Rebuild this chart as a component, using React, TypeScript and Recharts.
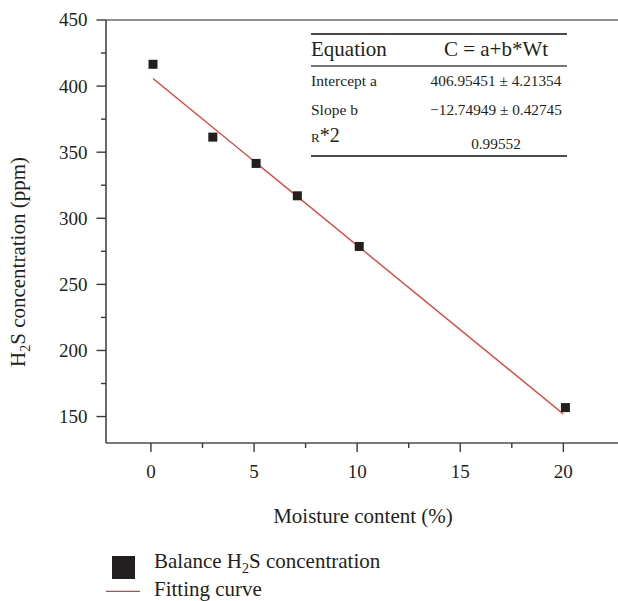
import React from 'react';
import {
  ComposedChart,
  Scatter,
  Line,
  XAxis,
  YAxis,
  ReferenceLine,
  Customized,
  Legend,
  Label,
} from 'recharts';

// ---------- data ----------
const moisture = [0.1, 3.0, 5.1, 7.1, 10.1, 20.1];
const h2sConc = [416.5, 361.4, 341.5, 317.0, 278.7, 156.8];
const fitX = [0.1, 20.0];
const fitY = [405.7, 152.0];

const xTicks = [0, 2.5, 5, 7.5, 10, 12.5, 15, 17.5, 20];
const xMajorTicks = [0, 5, 10, 15, 20];
const yTicks = [150, 175, 200, 225, 250, 275, 300, 325, 350, 375, 400, 425, 450];
const yMajorTicks = [150, 200, 250, 300, 350, 400, 450];

const tableHeader = ['Equation', 'C = a+b*Wt'];
const tableRows = [
  ['Intercept a', '406.95451 ± 4.21354'],
  ['Slope b', '\u221212.74949 ± 0.42745'],
];
const rSquaredValue = '0.99552';

const scatterData = moisture.map((x, i) => ({ x, y: h2sConc[i] }));
const fitData = fitX.map((x, i) => ({ x, y: fitY[i] }));

// ---------- styles ----------
const FONT = '"Liberation Serif", "DejaVu Serif", serif';
const INK = '#231f20';
const AXIS = '#3a3a3a';
const RED = '#e8372c';

const XTick = (props: any) => {
  const { x, y, payload } = props;
  const v = payload.value;
  const major = xMajorTicks.includes(v);
  return (
    <g>
      <line x1={x} x2={x} y1={y} y2={y + (major ? 9 : 5)} stroke={AXIS} strokeWidth={1.4} />
      {major && (
        <text x={x} y={y + 35} textAnchor="middle" fontFamily={FONT} fontSize={19} fill={INK}>
          {v}
        </text>
      )}
    </g>
  );
};

const YTick = (props: any) => {
  const { x, y, payload } = props;
  const v = payload.value;
  const major = yMajorTicks.includes(v);
  return (
    <g>
      <line x1={x} x2={x - (major ? 9.5 : 5)} y1={y} y2={y} stroke={AXIS} strokeWidth={1.4} />
      {major && (
        <text x={x - 18.5} y={y} dy="0.34em" textAnchor="end" fontFamily={FONT} fontSize={19} fill={INK}>
          {v}
        </text>
      )}
    </g>
  );
};

const Square = (props: any) => {
  const { cx, cy } = props;
  if (cx == null || cy == null) return null;
  return <rect x={cx - 4.5} y={cy - 4.5} width={9} height={9} fill={INK} />;
};

const FitTable = () => {
  const x0 = 311;
  const x1 = 567;
  const cx = 496;
  return (
    <g fontFamily={FONT} fill={INK}>
      <line x1={x0} x2={x1} y1={34} y2={34} stroke="#4a4a4a" strokeWidth={2} />
      <text x={x0} y={56} fontSize={21}>{tableHeader[0]}</text>
      <text x={cx} y={56} fontSize={21} textAnchor="middle">{tableHeader[1]}</text>
      <line x1={x0} x2={x1} y1={66} y2={66} stroke="#4a4a4a" strokeWidth={1.5} />
      {tableRows.map((r, i) => (
        <g key={r[0]}>
          <text x={x0} y={86 + i * 28.5} fontSize={15.5}>{r[0]}</text>
          <text x={cx} y={86 + i * 28.5} fontSize={15.3} textAnchor="middle">{r[1]}</text>
        </g>
      ))}
      <text x={x0} y={142}>
        <tspan fontSize={13}>R</tspan>
        <tspan fontSize={20}>*2</tspan>
      </text>
      <text x={cx} y={149} fontSize={15.3} textAnchor="middle">{rSquaredValue}</text>
      <line x1={x0} x2={x1} y1={156} y2={156} stroke="#4a4a4a" strokeWidth={2} />
    </g>
  );
};

const LegendContent = () => (
  <svg width={618} height={53} style={{ display: 'block', overflow: 'visible' }}>
    <rect x={112} y={8} width={23} height={23} fill={INK} />
    <text x={154} y={20} fontFamily={FONT} fontSize={21} fill={INK}>
      Balance H
      <tspan fontSize={14} dy={5}>2</tspan>
      <tspan dy={-5}>S concentration</tspan>
    </text>
    <line x1={106} x2={140} y1={43.3} y2={43.3} stroke={RED} strokeWidth={1.3} />
    <text x={154} y={48} fontFamily={FONT} fontSize={21} fill={INK}>
      Fitting curve
    </text>
  </svg>
);

const XLabel = (props: any) => {
  const vb = props.viewBox || { x: 106, width: 512, y: 443 };
  return (
    <text x={vb.x + vb.width / 2 + 1} y={523} textAnchor="middle" fontFamily={FONT} fontSize={21} fill={INK}>
      Moisture content (%)
    </text>
  );
};

const YLabel = () => (
  <text
    x={25}
    y={262}
    transform="rotate(-90, 25, 262)"
    textAnchor="middle"
    fontFamily={FONT}
    fontSize={21}
    fill={INK}
  >
    H<tspan fontSize={14} dy={5}>2</tspan>
    <tspan dy={-5}>S concentration (ppm)</tspan>
  </text>
);

export default function App() {
  return (
    <div style={{ position: 'absolute', left: 0, top: 0, width: 618, height: 601, background: '#fff' }}>
      <ComposedChart
        width={618}
        height={601}
        margin={{ top: 20, right: 0, left: 6, bottom: 58 }}
      >
        <XAxis
          dataKey="x"
          type="number"
          domain={[-2.18, 22.65]}
          allowDataOverflow
          ticks={xTicks}
          interval={0}
          tickSize={0}
          tickMargin={0}
          tickLine={false}
          tick={XTick}
          axisLine={{ stroke: '#4d4d4d', strokeWidth: 1.5 }}
          height={100}
        >
          <Label content={XLabel} />
        </XAxis>
        <YAxis
          dataKey="y"
          type="number"
          domain={[130, 450]}
          allowDataOverflow
          ticks={yTicks}
          interval={0}
          tickSize={0}
          tickMargin={0}
          tickLine={false}
          tick={YTick}
          axisLine={{ stroke: AXIS, strokeWidth: 1.5 }}
          width={100}
        >
          <Label content={YLabel} />
        </YAxis>
        <ReferenceLine y={450} stroke="#6e6e6e" strokeWidth={1.5} />
        <Line
          data={fitData}
          dataKey="y"
          type="linear"
          stroke={RED}
          strokeWidth={1.3}
          dot={false}
          activeDot={false}
          isAnimationActive={false}
          name="Fitting curve"
        />
        <Scatter
          data={scatterData}
          dataKey="y"
          shape={Square}
          isAnimationActive={false}
          name="Balance H2S concentration"
        />
        <Customized component={FitTable} />
        <Legend
          layout="vertical"
          align="center"
          verticalAlign="middle"
          content={LegendContent}
          wrapperStyle={{ position: 'absolute', left: 0, top: 548, bottom: 'auto', width: 618, height: 53, margin: 0 }}
        />
      </ComposedChart>
    </div>
  );
}
